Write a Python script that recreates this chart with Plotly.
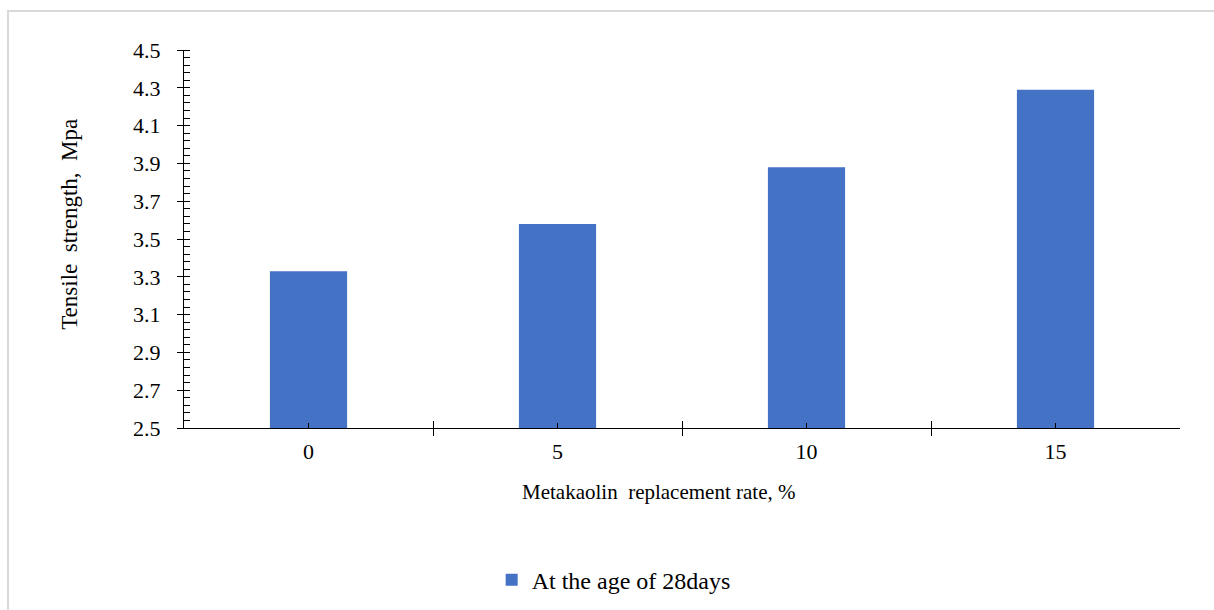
import plotly.graph_objects as go

# Tensile strength at 28 days vs. metakaolin replacement rate
categories = ["0", "5", "10", "15"]
strength = [3.33, 3.58, 3.88, 4.29]
series_name = "At the age of 28days"
x_title = "Metakaolin  replacement rate, %"
y_title = "Tensile  strength,  Mpa"

positions = list(range(len(categories)))
boundaries = [p - 0.5 for p in positions] + [positions[-1] + 0.5]

FONT = "Liberation Serif"
BAR_COLOR = "#4472C4"

fig = go.Figure()
fig.add_trace(go.Bar(
    x=positions, y=strength, name=series_name,
    marker=dict(color=BAR_COLOR, line=dict(width=0)),
    width=0.31, showlegend=True,
))
# helper trace that carries the overlay axes (inner halves of the cross ticks)
fig.add_trace(go.Scatter(
    x=[positions[0]], y=[strength[0]], xaxis="x2", yaxis="y2",
    mode="markers", marker=dict(opacity=0), showlegend=False, hoverinfo="skip",
))

yrange = [2.5, 4.5]
xrange_ = [boundaries[0], boundaries[-1]]

fig.update_layout(
    width=1214, height=610,
    margin=dict(l=184, r=34, t=50, b=182),
    paper_bgcolor="white", plot_bgcolor="white",
    font=dict(family=FONT, size=20, color="#000000"),
    xaxis=dict(
        range=xrange_, tickmode="array", tickvals=positions, ticktext=categories,
        ticks="inside", ticklen=5, tickwidth=1.2, tickcolor="#000",
        minor=dict(tickmode="array", tickvals=boundaries, ticks="outside",
                   ticklen=7, tickwidth=1.2, tickcolor="#000"),
        showline=True, linecolor="#000", linewidth=1.3,
        showgrid=False, zeroline=False, automargin=False,
        tickfont=dict(family=FONT, size=22),
        ticklabelstandoff=3,
    ),
    xaxis2=dict(
        overlaying="x", anchor="y2", side="bottom", range=xrange_,
        tickmode="array", tickvals=boundaries, ticks="inside", ticklen=7,
        tickwidth=1.2, tickcolor="#000", showticklabels=False,
        showline=False, showgrid=False, zeroline=False,
    ),
    yaxis=dict(
        range=yrange, tickmode="linear", tick0=2.5, dtick=0.2, tickformat=".1f",
        ticks="outside", ticklen=6, tickwidth=1.2, tickcolor="#000",
        minor=dict(tickmode="linear", tick0=2.5, dtick=0.04, ticks="inside",
                   ticklen=6, tickwidth=1.0, tickcolor="#000"),
        showline=True, linecolor="#000", linewidth=1.3,
        showgrid=False, zeroline=False, automargin=False,
        tickfont=dict(family=FONT, size=22),
        ticklabelstandoff=12,
    ),
    yaxis2=dict(
        overlaying="y", anchor="x2", side="left", range=yrange,
        tickmode="linear", tick0=2.5, dtick=0.2, ticks="inside", ticklen=6,
        tickwidth=1.2, tickcolor="#000", showticklabels=False,
        showline=False, showgrid=False, zeroline=False,
    ),
    legend=dict(
        orientation="h", xref="container", yref="container",
        x=0.405, xanchor="left", y=0.049, yanchor="middle",
        font=dict(family=FONT, size=24), bgcolor="rgba(0,0,0,0)",
    ),
    annotations=[
        dict(text=x_title, xref="paper", yref="paper", x=0.476, y=-0.169,
             showarrow=False, xanchor="center", yanchor="middle",
             font=dict(family=FONT, size=21)),
        dict(text=y_title, xref="paper", yref="paper", x=-0.1145, y=0.54,
             showarrow=False, xanchor="center", yanchor="middle", textangle=-90,
             font=dict(family=FONT, size=23)),
    ],
    shapes=[dict(
        type="rect", xref="paper", yref="paper",
        x0=-0.1767, x1=1.06, y0=-0.6, y1=1.1032,
        line=dict(color="#d9d9d9", width=2), fillcolor="rgba(0,0,0,0)", layer="below",
    )],
    bargap=0.69,
)

fig.write_html("out.html")
